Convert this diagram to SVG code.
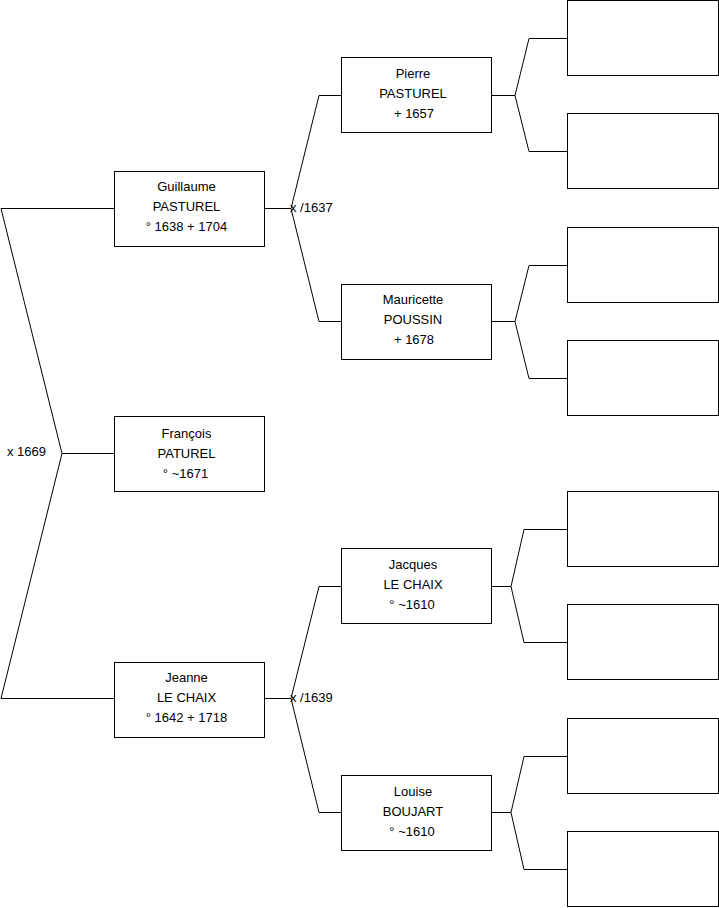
<svg xmlns="http://www.w3.org/2000/svg" width="719" height="908" viewBox="0 0 719 908">
<style>
.box{fill:#fff;stroke:#000;stroke-width:1}
.t{font-family:"Liberation Sans",Arial,sans-serif;font-size:13px;fill:#000;text-anchor:middle}
.l{font-family:"Liberation Sans",Arial,sans-serif;font-size:13px;fill:#000}
.c{fill:none;stroke:#000;stroke-width:1}
</style>
<rect width="719" height="908" fill="#fff"/>
<g id="connectors">
<polyline class="c" points="114,208.5 1,208.5 62,453.5 1,698.5 114,698.5"/>
<line class="c" x1="62" y1="453.5" x2="114" y2="453.5"/>
<text class="l" x="7" y="456">x 1669</text>
<polyline class="c" points="265,208.5 291,208.5"/>
<polyline class="c" points="341,95.5 319,95.5 291,208.5 319,321.5 341,321.5"/>
<text class="l" x="290" y="212">x /1637</text>
<polyline class="c" points="265,698.5 291,698.5"/>
<polyline class="c" points="341,586.5 319,586.5 291,698.5 319,812.5 341,812.5"/>
<text class="l" x="290" y="702">x /1639</text>
<polyline class="c" points="491,95.5 515,95.5"/>
<polyline class="c" points="567,38.5 529,38.5 515,95.5 529,151.5 567,151.5"/>
<polyline class="c" points="491,321.5 515,321.5"/>
<polyline class="c" points="567,265.5 529,265.5 515,321.5 529,378.5 567,378.5"/>
<polyline class="c" points="491,586.5 511,586.5"/>
<polyline class="c" points="567,529.5 524,529.5 511,586.5 524,642.5 567,642.5"/>
<polyline class="c" points="491,812.5 511,812.5"/>
<polyline class="c" points="567,756.5 524,756.5 511,812.5 524,869.5 567,869.5"/>
</g>
<g id="guillaume">
<rect class="box" x="114.5" y="171.5" width="150" height="75"/>
<text class="t" x="186.5" y="191">Guillaume</text>
<text class="t" x="186.5" y="211">PASTUREL</text>
<text class="t" x="186.5" y="231">° 1638 + 1704</text>
</g>
<g id="francois">
<rect class="box" x="114.5" y="416.5" width="150" height="75"/>
<text class="t" x="186.5" y="438">François</text>
<text class="t" x="186.5" y="458">PATUREL</text>
<text class="t" x="185.5" y="478">° ~1671</text>
</g>
<g id="jeanne">
<rect class="box" x="114.5" y="662.5" width="150" height="75"/>
<text class="t" x="186.5" y="682">Jeanne</text>
<text class="t" x="186.5" y="702">LE CHAIX</text>
<text class="t" x="186.5" y="722">° 1642 + 1718</text>
</g>
<g id="pierre">
<rect class="box" x="341.5" y="57.5" width="150" height="75"/>
<text class="t" x="413" y="78">Pierre</text>
<text class="t" x="413" y="98">PASTUREL</text>
<text class="t" x="414" y="118">+ 1657</text>
</g>
<g id="mauricette">
<rect class="box" x="341.5" y="284.5" width="150" height="75"/>
<text class="t" x="413" y="304">Mauricette</text>
<text class="t" x="413" y="324">POUSSIN</text>
<text class="t" x="414" y="344">+ 1678</text>
</g>
<g id="jacques">
<rect class="box" x="341.5" y="548.5" width="150" height="75"/>
<text class="t" x="413" y="569">Jacques</text>
<text class="t" x="413" y="589">LE CHAIX</text>
<text class="t" x="412" y="609">° ~1610</text>
</g>
<g id="louise">
<rect class="box" x="341.5" y="775.5" width="150" height="75"/>
<text class="t" x="413" y="796">Louise</text>
<text class="t" x="413" y="816">BOUJART</text>
<text class="t" x="412" y="836">° ~1610</text>
</g>
<g id="g3-1"><rect class="box" x="567.5" y="0.5" width="151" height="75"/></g>
<g id="g3-2"><rect class="box" x="567.5" y="113.5" width="151" height="75"/></g>
<g id="g3-3"><rect class="box" x="567.5" y="227.5" width="151" height="75"/></g>
<g id="g3-4"><rect class="box" x="567.5" y="340.5" width="151" height="75"/></g>
<g id="g3-5"><rect class="box" x="567.5" y="491.5" width="151" height="75"/></g>
<g id="g3-6"><rect class="box" x="567.5" y="604.5" width="151" height="75"/></g>
<g id="g3-7"><rect class="box" x="567.5" y="718.5" width="151" height="75"/></g>
<g id="g3-8"><rect class="box" x="567.5" y="831.5" width="151" height="75"/></g>
</svg>
